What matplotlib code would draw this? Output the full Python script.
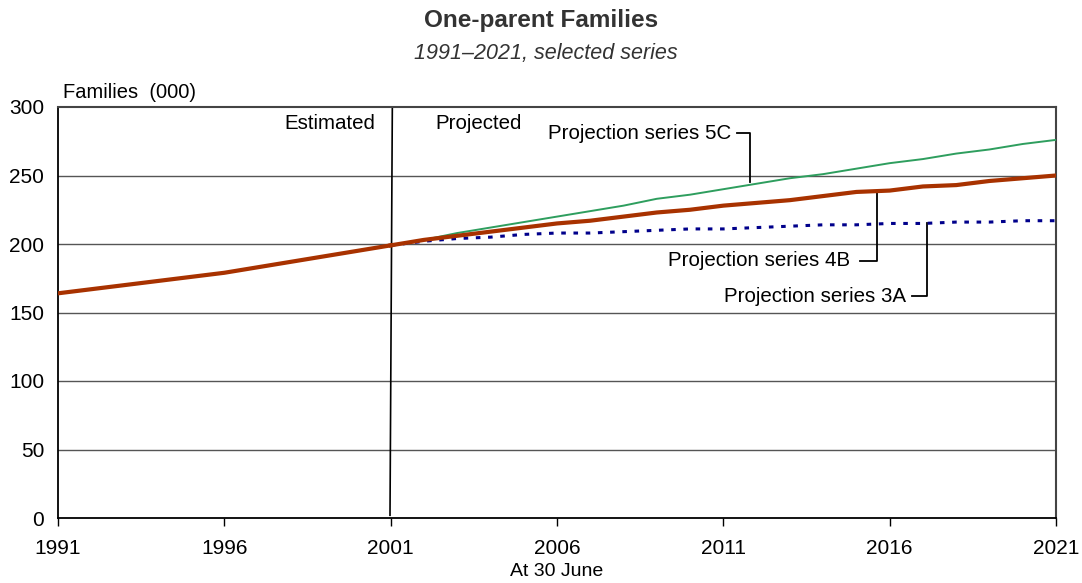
import matplotlib
matplotlib.use("Agg")
import matplotlib.pyplot as plt

plt.rcParams['font.family'] = ['Liberation Sans', 'DejaVu Sans']

years_est = list(range(1991, 2002))
est = [164, 167, 170, 173, 176, 179, 183, 187, 191, 195, 199]

years_proj = list(range(2001, 2022))
s5c = [199, 203, 208, 212, 216, 220, 224, 228, 233, 236, 240, 244, 248, 251, 255, 259, 262, 266, 269, 273, 276]
s4b = [199, 203, 206, 209, 212, 215, 217, 220, 223, 225, 228, 230, 232, 235, 238, 239, 242, 243, 246, 248, 250]
s3a = [199, 202, 204, 205, 207, 208, 208, 209, 210, 211, 211, 212, 213, 214, 214, 215, 215, 216, 216, 217, 217]

xticks = [1991, 1996, 2001, 2006, 2011, 2016, 2021]
yticks = [0, 50, 100, 150, 200, 250, 300]

fig = plt.figure(figsize=(10.82, 5.83), dpi=100)
ax = fig.add_axes([58/1082, 65/583, (1056-58)/1082, (518-107)/583])

for v in yticks[1:-1]:
    ax.axhline(v, color='#555555', lw=1.0, zorder=1)

ax.plot([2001.05, 2000.98], [300, 2], color='black', lw=1.2, zorder=2)

ax.plot(years_proj, s5c, color='#2e9e5e', lw=1.4, zorder=3)
ax.plot(years_proj, s3a, color='#00008b', lw=2.2, ls=(0, (1.5, 2.5)), zorder=3)
ax.plot(years_est, est, color='#a83200', lw=3, zorder=4)
ax.plot(years_proj, s4b, color='#a83200', lw=3, zorder=4)

ax.set_xlim(1991, 2021)
ax.set_ylim(0, 300)
ax.set_xticks(xticks)
ax.set_yticks(yticks)
ax.tick_params(axis='x', direction='out', length=6, width=1, labelsize=15, pad=9)
ax.tick_params(axis='y', length=0, labelsize=15, pad=10)
for s in ['left', 'bottom']:
    ax.spines[s].set_color('black')
    ax.spines[s].set_linewidth(1.3)
for s in ['top', 'right']:
    ax.spines[s].set_color('#444444')
    ax.spines[s].set_linewidth(1.5)

fs = 14.8
# annotations
ax.text(2000.55, 288, 'Estimated', ha='right', va='center', fontsize=fs)
ax.text(2002.35, 288, 'Projected', ha='left', va='center', fontsize=fs)

ax.text(2011.25, 281, 'Projection series 5C', ha='right', va='center', fontsize=fs)
ax.plot([2011.41, 2011.8, 2011.8], [281, 281, 245], color='black', lw=1.3)

ax.text(2014.8, 187.6, 'Projection series 4B', ha='right', va='center', fontsize=fs)
ax.plot([2015.1, 2015.62, 2015.62], [187.6, 187.6, 238], color='black', lw=1.3)

ax.text(2016.5, 162, 'Projection series 3A', ha='right', va='center', fontsize=fs)
ax.plot([2016.67, 2017.12, 2017.12], [162, 162, 215.5], color='black', lw=1.3)

fig.text(63/1082, 1 - 92/583, 'Families  (000)', ha='left', va='center', fontsize=14.5)
fig.text(557/1082, 1 - 571/583, 'At 30 June', ha='center', va='center', fontsize=14)
fig.text(541/1082, 1 - 20/583, 'One-parent Families', ha='center', va='center',
         fontsize=17.5, fontweight='bold', color='#333333')
fig.text(546/1082, 1 - 53/583, '1991\u20132021, selected series', ha='center', va='center',
         fontsize=15.5, style='italic', color='#333333')

fig.savefig('out.png', dpi=100)
